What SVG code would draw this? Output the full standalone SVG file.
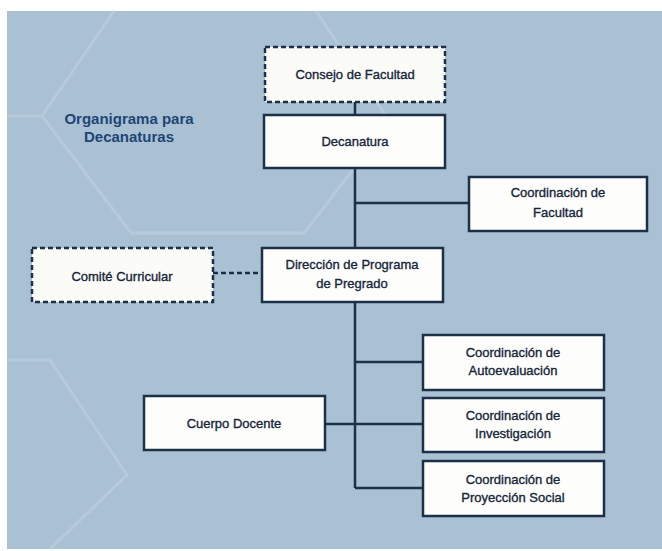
<svg xmlns="http://www.w3.org/2000/svg" width="662" height="551" viewBox="0 0 662 551">
<style>
.box{fill:#fdfdfc;stroke:#1c3048;stroke-width:2.5}
.dash{fill:#fbfbf8;stroke:#1c3048;stroke-width:2.5;stroke-dasharray:5 3}
.t{font-family:"Liberation Sans",Arial,sans-serif;font-size:13px;fill:#17263a;stroke:#17263a;stroke-width:0.35;text-anchor:middle}
.title{font-family:"Liberation Sans",Arial,sans-serif;font-size:15px;font-weight:bold;fill:#1d4677;text-anchor:middle}
.ln{stroke:#1c3048;stroke-width:2.5;fill:none}
.dl{stroke:#1c3048;stroke-width:2.5;fill:none;stroke-dasharray:5 3}
.hex{stroke:#bccede;stroke-width:3;fill:none;opacity:0.7}
</style>
<rect x="0" y="0" width="662" height="551" fill="#ffffff"/>
<rect x="7" y="11" width="655" height="538" fill="#aac0d3"/>
<g id="background-hexagons">
<polyline class="hex" points="114,11 42,116 131,233 304,233 390,122 316,11"/>
<line class="hex" x1="7" y1="116" x2="42" y2="116"/>
<polyline class="hex" points="7,360 50,360 127,475 50,549"/>
</g>
<g id="title">
<text class="title" x="129" y="124">Organigrama para</text>
<text class="title" x="129" y="142">Decanaturas</text>
</g>
<g id="connectors">
<line class="ln" x1="355" y1="102" x2="355" y2="115"/>
<line class="ln" x1="355" y1="168" x2="355" y2="248"/>
<line class="ln" x1="355" y1="203" x2="469" y2="203"/>
<line class="dl" x1="213" y1="273" x2="262" y2="273"/>
<line class="ln" x1="355" y1="302" x2="355" y2="488"/>
<line class="ln" x1="355" y1="362" x2="423" y2="362"/>
<line class="ln" x1="325" y1="424" x2="423" y2="424"/>
<line class="ln" x1="355" y1="488" x2="423" y2="488"/>
</g>
<g id="consejo">
<rect class="dash" x="265" y="47" width="180" height="55"/>
<text class="t" x="355" y="79">Consejo de Facultad</text>
</g>
<g id="decanatura">
<rect class="box" x="264" y="115" width="181" height="53"/>
<text class="t" x="355" y="146">Decanatura</text>
</g>
<g id="coord-facultad">
<rect class="box" x="469" y="177" width="178" height="54"/>
<text class="t" x="558" y="197">Coordinación de</text>
<text class="t" x="558" y="217">Facultad</text>
</g>
<g id="comite">
<rect class="dash" x="32" y="248" width="181" height="54"/>
<text class="t" x="122" y="281">Comité Curricular</text>
</g>
<g id="direccion">
<rect class="box" x="262" y="248" width="181" height="54"/>
<text class="t" x="352" y="269">Dirección de Programa</text>
<text class="t" x="352" y="288">de Pregrado</text>
</g>
<g id="autoevaluacion">
<rect class="box" x="423" y="335" width="181" height="55"/>
<text class="t" x="513" y="357">Coordinación de</text>
<text class="t" x="513" y="375">Autoevaluación</text>
</g>
<g id="cuerpo-docente">
<rect class="box" x="144" y="396" width="181" height="54"/>
<text class="t" x="234" y="428">Cuerpo Docente</text>
</g>
<g id="investigacion">
<rect class="box" x="423" y="398" width="181" height="54"/>
<text class="t" x="513" y="420">Coordinación de</text>
<text class="t" x="513" y="438">Investigación</text>
</g>
<g id="proyeccion">
<rect class="box" x="423" y="461" width="181" height="55"/>
<text class="t" x="513" y="484">Coordinación de</text>
<text class="t" x="513" y="502">Proyección Social</text>
</g>
</svg>
